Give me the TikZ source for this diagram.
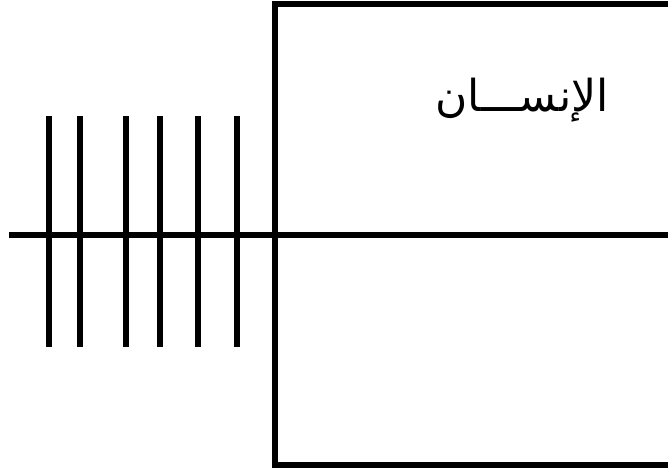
\documentclass[tikz,border=0pt]{standalone}
\usepackage{fontspec}
\newfontfamily\arabicfont[Script=Arabic]{DejaVu Sans}
\TeXXeTstate=1
\usepackage{tikz}

\begin{document}
\begin{tikzpicture}[x=1pt,y=-1pt,line width=6pt]
        \useasboundingbox (0,0) rectangle (668,471);
        \draw (668,3.5) -- (275,3.5) -- (275,465) -- (668,465);
        \draw (9.3,234.5) -- (668,234.5);
        \foreach \x in {49,80,126,160,198,237} {
          \draw (\x,116) -- (\x,347);
        }
        \node[font=\fontsize{44}{52}\selectfont\arabicfont] (insan) at (522,100) {\beginR الإنســـان\endR};
      \end{tikzpicture}
\end{document}
